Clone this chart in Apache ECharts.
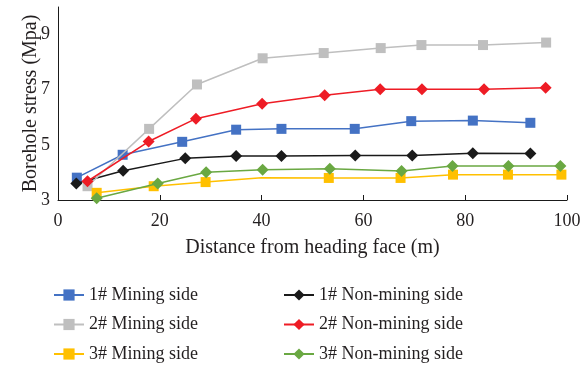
<!DOCTYPE html>
<html><head><meta charset="utf-8">
<script src="https://cdn.jsdelivr.net/npm/echarts@6/dist/echarts.min.js"></script>
<style>html,body{margin:0;padding:0;background:#fff}#c{width:585px;height:366px}</style>
</head><body><div id="c"></div>
<script>
var names = ['1# Mining side','1# Non-mining side','2# Mining side','2# Non-mining side','3# Mining side','3# Non-mining side'];
var x1M = [3.7,12.7,24.4,35,43.9,58.3,69.4,81.5,92.8];
var y1M = [3.81,4.64,5.11,5.55,5.58,5.58,5.86,5.88,5.8];
var x1N = [3.6,12.8,25,35,43.9,58.4,69.6,81.5,92.8];
var y1N = [3.6,4.06,4.51,4.6,4.6,4.61,4.61,4.70,4.69];
var x2M = [5.8,17.9,27.3,40.2,52.2,63.4,71.4,83.5,95.9];
var y2M = [3.5,5.58,7.19,8.14,8.33,8.51,8.62,8.62,8.71];
var x2N = [5.8,17.8,27.1,40.1,52.4,63.3,71.5,83.7,95.8];
var y2N = [3.68,5.12,5.95,6.49,6.80,7.02,7.02,7.02,7.07];
var x3M = [7.6,18.8,29,40,53.2,67.3,77.6,88.4,98.9];
var y3M = [3.26,3.5,3.65,3.81,3.8,3.8,3.92,3.92,3.92];
var hidden3M = [false,false,false,true,false,false,false,false,false];
var x3N = [7.6,19.6,29.1,40.2,53.4,67.5,77.5,88.5,98.7];
var y3N = [3.06,3.6,4.01,4.1,4.13,4.05,4.23,4.23,4.23];
var yTicks = [3,5,7,9];

var colors = ['#4472c4','#1a1a1a','#bfbfbf','#ee1c25','#ffc000','#6aa842'];
var symbols = ['rect','diamond','rect','diamond','rect','diamond'];
var xs = [x1M,x1N,x2M,x2N,x3M,x3N];
var ys = [y1M,y1N,y2M,y2N,y3M,y3N];
var font = '"Liberation Serif","DejaVu Serif",serif';

var series = names.map(function(n,i){
  return {
    name:n, type:'line', z: 2+i,
    symbol: symbols[i],
    symbolSize: symbols[i]==='rect' ? 10 : 12,
    lineStyle:{color:colors[i], width:1.5},
    itemStyle:{color:colors[i]},
    data: xs[i].map(function(x,j){
      var it = {value:[x, ys[i][j]]};
      if (i===4 && hidden3M[j]) it.symbolSize = 0;
      return it;
    })
  };
});

var legendText = {color:'#231f20', fontSize:18, fontFamily:font, lineHeight:20};
var chart = echarts.init(document.getElementById('c'), null, {renderer:'canvas'});
chart.setOption({
  animation:false,
  textStyle:{fontFamily:font},
  grid:{left:58, right:18, top:7, bottom:166, containLabel:false},
  xAxis:{
    type:'value', min:0, max:100, interval:20,
    axisLine:{lineStyle:{color:'#1a1a1a', width:1}},
    axisTick:{inside:true, length:5, lineStyle:{color:'#1a1a1a'}},
    splitLine:{show:false},
    axisLabel:{color:'#231f20', fontSize:18, fontFamily:font, margin:12},
    name:'Distance from heading face (m)', nameLocation:'middle', nameGap:38, nameMoveOverlap:false,
    nameTextStyle:{color:'#231f20', fontSize:20, fontFamily:font}
  },
  yAxis:{
    type:'value', min:3, max:10, interval:1,
    axisLine:{show:true, lineStyle:{color:'#1a1a1a', width:1}},
    axisTick:{show:false},
    splitLine:{show:false},
    axisLabel:{color:'#231f20', fontSize:18, fontFamily:font, margin:8,
      formatter:function(v){ return yTicks.indexOf(v)>=0 ? String(v) : ''; }},
    name:'Borehole stress (Mpa)', nameLocation:'middle', nameGap:17, nameMoveOverlap:false,
    nameTextStyle:{color:'#231f20', fontSize:20, fontFamily:font}
  },
  legend:[
    {data:[names[0],names[2],names[4]], orient:'vertical', left:53, top:285, height:81, padding:0, itemWidth:30, itemHeight:14, itemGap:9.5,
     textStyle:legendText},
    {data:[names[1],names[3],names[5]], orient:'vertical', left:283, top:285, height:81, padding:0, itemWidth:30, itemHeight:14, itemGap:9.5,
     textStyle:legendText}
  ],
  series:series
});
</script></body></html>
